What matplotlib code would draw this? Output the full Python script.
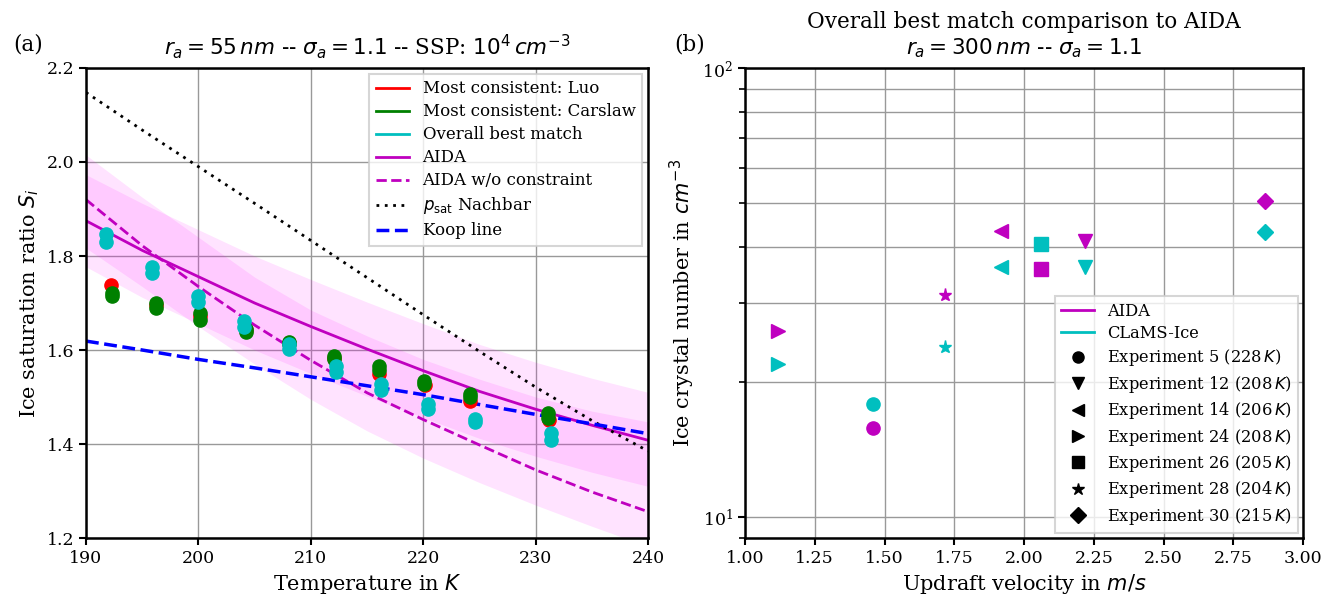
import numpy as np
import matplotlib
matplotlib.use("Agg")
import matplotlib.pyplot as plt
from matplotlib.lines import Line2D

plt.rcParams['font.family'] = ['DejaVu Serif']
plt.rcParams['axes.linewidth'] = 1.8
plt.rcParams['xtick.major.width'] = 1.5
plt.rcParams['ytick.major.width'] = 1.5
plt.rcParams['ytick.minor.width'] = 1.2
plt.rcParams['xtick.major.size'] = 5
plt.rcParams['ytick.major.size'] = 5
plt.rcParams['ytick.minor.size'] = 4

# --- (a) saturation ratio vs temperature ---
temp_grid = [190, 195, 200, 205, 210, 215, 220, 225, 230, 235, 240]
aida_fit = [1.875, 1.812, 1.756, 1.700, 1.650, 1.602, 1.556, 1.512, 1.474, 1.440, 1.408]
aida_fit_lo = [1.777, 1.712, 1.656, 1.600, 1.550, 1.502, 1.456, 1.412, 1.374, 1.340, 1.310]
aida_fit_hi = [1.973, 1.912, 1.856, 1.800, 1.750, 1.702, 1.656, 1.612, 1.574, 1.540, 1.510]
aida_free = [1.920, 1.822, 1.735, 1.653, 1.578, 1.509, 1.452, 1.398, 1.345, 1.298, 1.256]
aida_free_lo = [1.817, 1.735, 1.650, 1.570, 1.495, 1.428, 1.370, 1.318, 1.270, 1.225, 1.182]
aida_free_hi = [2.015, 1.925, 1.840, 1.755, 1.685, 1.630, 1.580, 1.538, 1.500, 1.470, 1.447]
nachbar = [2.148, 2.068, 1.990, 1.912, 1.833, 1.754, 1.675, 1.597, 1.521, 1.450, 1.385]
koop = [1.619, 1.600, 1.580, 1.562, 1.543, 1.524, 1.505, 1.484, 1.463, 1.443, 1.422]

luo_T = [192.2, 196.2, 200.1, 204.2, 208.1, 212.1, 216.1, 220.2, 224.2, 231.2]
luo_S = [1.739, 1.696, 1.672, 1.643, 1.614, 1.583, 1.550, 1.525, 1.492, 1.452]

carslaw_T = [192.3, 192.3, 196.2, 196.2, 200.1, 200.1, 204.2, 204.2, 208.1, 208.1,
             212.1, 212.1, 216.1, 216.1, 220.1, 220.1, 224.2, 224.2, 231.1, 231.1]
carslaw_S = [1.722, 1.715, 1.700, 1.689, 1.679, 1.664, 1.645, 1.638, 1.618, 1.612,
             1.588, 1.580, 1.565, 1.557, 1.534, 1.528, 1.506, 1.499, 1.467, 1.456]

best_T = [191.8, 191.8, 195.9, 195.9, 200.0, 200.0, 204.1, 204.1, 208.1, 208.1,
          212.2, 212.2, 216.2, 216.2, 220.4, 220.4, 224.6, 224.6, 231.4, 231.4]
best_S = [1.847, 1.830, 1.776, 1.763, 1.715, 1.702, 1.662, 1.650, 1.612, 1.603,
          1.566, 1.553, 1.527, 1.514, 1.486, 1.474, 1.454, 1.447, 1.423, 1.408]

# --- (b) ice crystal numbers per experiment ---
experiments = ["Experiment 5 (228$\\,K$)", "Experiment 12 (208$\\,K$)",
               "Experiment 14 (206$\\,K$)", "Experiment 24 (208$\\,K$)",
               "Experiment 26 (205$\\,K$)", "Experiment 28 (204$\\,K$)",
               "Experiment 30 (215$\\,K$)"]
markers = ['o', 'v', '<', '>', 's', '*', 'D']
updraft = [1.458, 2.219, 1.917, 1.117, 2.060, 1.717, 2.865]
n_aida = [15.8, 41.2, 43.4, 26.0, 35.8, 31.3, 50.5]
n_clams = [17.9, 36.0, 36.0, 21.9, 40.6, 24.0, 43.1]

dotted = (0, (1, 2))

fig = plt.figure(figsize=(13.25, 5.98), dpi=100)
ax1 = fig.add_axes([0.0649, 0.1003, 0.4242, 0.786])
ax2 = fig.add_axes([0.5623, 0.1003, 0.4211, 0.786])

ax1.fill_between(temp_grid, aida_fit_lo, aida_fit_hi, color='#ff00ff', alpha=0.11, lw=0)
ax1.fill_between(temp_grid, aida_free_lo, aida_free_hi, color='#ff00ff', alpha=0.11, lw=0)
ax1.plot(temp_grid, aida_fit, 'm-', lw=2)
ax1.plot(temp_grid, aida_free, 'm--', lw=2)
ax1.plot(temp_grid, nachbar, color='k', ls=dotted, lw=2)
ax1.plot(temp_grid, koop, 'b--', lw=2.5)

ax1.plot(luo_T, luo_S, 'o', color='r', ms=9.5, ls='none')
ax1.plot(carslaw_T, carslaw_S, 'o', color='g', ms=9.5, ls='none')
ax1.plot(best_T, best_S, 'o', color='c', ms=9.5, ls='none')

handles = [Line2D([], [], color='r', lw=2),
           Line2D([], [], color='g', lw=2),
           Line2D([], [], color='c', lw=2),
           Line2D([], [], color='m', lw=2),
           Line2D([], [], color='m', lw=2, ls='--'),
           Line2D([], [], color='k', lw=2, ls=dotted),
           Line2D([], [], color='b', lw=2.5, ls='--')]
labels = ["Most consistent: Luo", "Most consistent: Carslaw", "Overall best match",
          "AIDA", "AIDA w/o constraint", r"$p_\mathrm{sat}$ Nachbar", "Koop line"]
leg = ax1.legend(handles, labels, loc='upper right', fontsize=12, fancybox=False,
                 borderaxespad=0.35, labelspacing=0.36)
leg.get_frame().set_linewidth(1.5)

ax1.set_xlim(190, 240)
ax1.set_ylim(1.2, 2.2)
ax1.grid(True, color='0.6', lw=1)
ax1.set_axisbelow(True)
ax1.tick_params(labelsize=12.5)
ax1.set_xlabel("Temperature in $K$", fontsize=15)
ax1.set_ylabel("Ice saturation ratio $S_i$", fontsize=15)
ax1.set_title(r"$r_a = 55\,nm$ -- $\sigma_a = 1.1$ -- SSP: $10^4\,cm^{-3}$", fontsize=15.5, pad=10)

for i in range(len(updraft)):
    ax2.plot(updraft[i], n_aida[i], marker=markers[i], color='m',
             ms=8 if markers[i] == 'D' else 9.5, ls='none')
    ax2.plot(updraft[i], n_clams[i], marker=markers[i], color='c',
             ms=8 if markers[i] == 'D' else 9.5, ls='none')

handles2 = [Line2D([], [], color='m', lw=2), Line2D([], [], color='c', lw=2)]
handles2 += [Line2D([], [], color='k', marker=m, ls='none', ms=8 if m != '*' else 9)
             for m in markers]
leg2 = ax2.legend(handles2, ["AIDA", "CLaMS-Ice"] + experiments, loc='lower right',
                  fontsize=11.7, fancybox=False, borderaxespad=0.3, labelspacing=0.33)
leg2.get_frame().set_linewidth(1.5)

ax2.set_yscale('log')
ax2.set_xlim(1.0, 3.0)
ax2.set_ylim(9, 100)
ax2.set_xticks([1.0, 1.25, 1.5, 1.75, 2.0, 2.25, 2.5, 2.75, 3.0])
ax2.grid(True, which='both', color='0.6', lw=1)
ax2.set_axisbelow(True)
ax2.tick_params(labelsize=12.5)
ax2.set_xlabel("Updraft velocity in $m/s$", fontsize=15)
ax2.set_ylabel("Ice crystal number in $cm^{-3}$", fontsize=15)
ax2.set_title("Overall best match comparison to AIDA\n" + r"$r_a = 300\,nm$ -- $\sigma_a = 1.1$",
              fontsize=15.5, pad=10)

fig.text(0.010, 0.915, "(a)", fontsize=15.5)
fig.text(0.509, 0.915, "(b)", fontsize=15.5)

fig.savefig("out.png", dpi=100)
